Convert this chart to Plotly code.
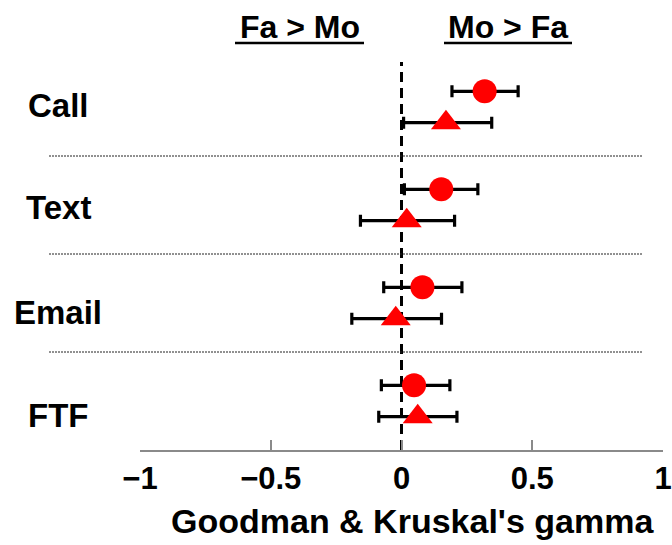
import plotly.graph_objects as go

# Communication modes, top to bottom
categories = ["Call", "Text", "Email", "FTF"]
group_pos = [4, 3, 2, 1]

# Circle series: gamma estimate with confidence limits
circle_est = [0.318, 0.152, 0.080, 0.048]
circle_lo = [0.193, 0.011, -0.068, -0.077]
circle_hi = [0.446, 0.292, 0.231, 0.185]

# Triangle series: gamma estimate with confidence limits
tri_est = [0.170, 0.020, -0.022, 0.062]
tri_lo = [0.008, -0.157, -0.190, -0.087]
tri_hi = [0.345, 0.203, 0.153, 0.212]

x_ticks = [-1, -0.5, 0, 0.5, 1]
x_ticktext = ["\u22121", "\u22120.5", "0", "0.5", "1"]

OFFSET = 0.16
FONT = "Liberation Sans, Arial, sans-serif"

W, H = 672, 545
ML, MR, MT, MB = 140, 9, 58, 95
PW, PH = W - ML - MR, H - MT - MB


def px(xpix):
    """Horizontal page pixel -> paper fraction."""
    return (xpix - ML) / PW


def py(ypix):
    """Vertical page pixel (from top) -> paper fraction."""
    return (H - MB - ypix) / PH


fig = go.Figure()


def add_series(est, lo, hi, sign, symbol, size):
    fig.add_trace(go.Scatter(
        x=est,
        y=[g + sign * OFFSET for g in group_pos],
        mode="markers",
        marker=dict(symbol=symbol, size=size, color="#ff0000", line=dict(width=0)),
        error_x=dict(
            type="data", symmetric=False,
            array=[h - e for h, e in zip(hi, est)],
            arrayminus=[e - l for e, l in zip(est, lo)],
            color="black", thickness=3.2, width=6,
        ),
        showlegend=False,
        hoverinfo="x",
    ))


add_series(circle_est, circle_lo, circle_hi, +1, "circle", 24)
add_series(tri_est, tri_lo, tri_hi, -1, "triangle-up", 26)

y_min, y_max = 0.5, 4.5


def ypaper(v):
    return (v - y_min) / (y_max - y_min)


shapes = []
# zero reference line
shapes.append(dict(type="line", xref="x", yref="paper", x0=0, x1=0, y0=0, y1=0.99,
                   line=dict(color="black", width=3, dash="10px,6px"), layer="below"))
# dotted separators between groups
for a, b in zip(group_pos[:-1], group_pos[1:]):
    ym = ypaper((a + b) / 2)
    shapes.append(dict(type="line", xref="paper", yref="paper", x0=px(49), x1=px(643),
                       y0=ym, y1=ym, line=dict(color="#222222", width=1, dash="2px,1px")))
# underlines for the direction headers
for x0, x1 in [(235, 364), (444, 572)]:
    shapes.append(dict(type="line", xref="paper", yref="paper",
                       x0=px(x0), x1=px(x1), y0=py(43), y1=py(43),
                       line=dict(color="black", width=2.5)))

annotations = []
label_shift = [2, -2, -9, -14]
for cat, g, s in zip(categories, group_pos, label_shift):
    annotations.append(dict(text=cat, xref="paper", yref="y", x=px(58), y=g,
                            yshift=s, xanchor="center", yanchor="middle", showarrow=False,
                            font=dict(family=FONT, size=33, color="black", weight="bold")))

for txt, xc in [("Fa > Mo", 300), ("Mo > Fa", 508)]:
    annotations.append(dict(text=txt, xref="paper", yref="paper", x=px(xc),
                            y=py(27), xanchor="center", yanchor="middle",
                            showarrow=False,
                            font=dict(family=FONT, size=32, color="black", weight="bold")))

annotations.append(dict(text="Goodman & Kruskal's gamma", xref="paper", yref="paper",
                        x=px(412), y=py(521), xanchor="center",
                        yanchor="middle", showarrow=False,
                        font=dict(family=FONT, size=34, color="black", weight="bold")))

fig.update_layout(
    width=W, height=H,
    margin=dict(l=ML, r=MR, t=MT, b=MB),
    plot_bgcolor="white", paper_bgcolor="white",
    shapes=shapes, annotations=annotations,
    xaxis=dict(range=[-1, 1], tickvals=x_ticks, ticktext=x_ticktext,
               showgrid=False, zeroline=False, showline=True, linecolor="#8a8a8a",
               linewidth=1.5, ticks="inside", ticklen=10, tickwidth=1.5,
               tickcolor="#8a8a8a", ticklabeloverflow="allow", automargin=False,
               tickfont=dict(family=FONT, size=31, color="black", weight="bold")),
    yaxis=dict(range=[y_min, y_max], showgrid=False, zeroline=False, showline=False,
               showticklabels=False, ticks="", automargin=False),
)

fig.write_html("out.html")
